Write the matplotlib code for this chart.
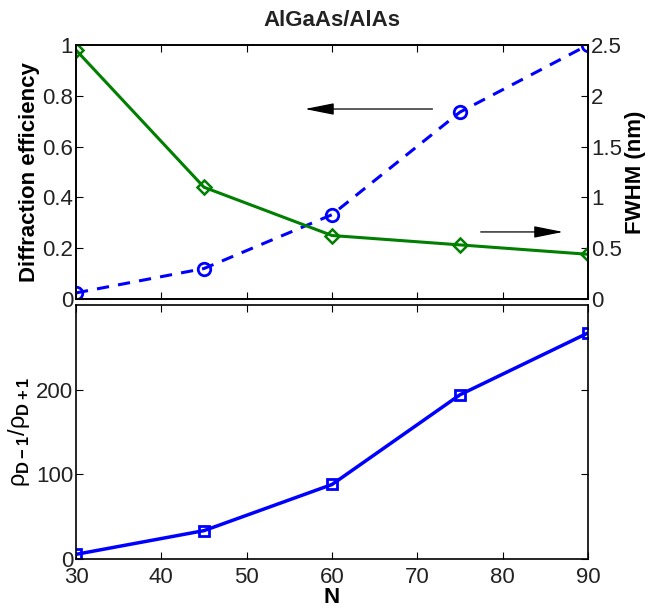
import matplotlib.pyplot as plt

plt.rcParams['font.family'] = ['Liberation Sans', 'DejaVu Sans']
plt.rcParams['mathtext.fontset'] = 'custom'
plt.rcParams['mathtext.rm'] = 'Liberation Sans'
plt.rcParams['mathtext.bf'] = 'Liberation Sans:bold'
plt.rcParams['text.color'] = '#222222'

# data
N = [30, 45, 60, 75, 90]
efficiency = [0.98, 0.44, 0.25, 0.213, 0.176]
fwhm = [0.06, 0.30, 0.83, 1.84, 2.5]
ratio = [5.5, 33.5, 88, 194, 267]

green = '#007f00'
blue = '#0000ff'
fs = 16

fig = plt.figure(figsize=(6.57, 6.12), dpi=100)
ax1 = fig.add_axes([76 / 657, 1 - 299 / 612, 512 / 657, 254 / 612])
ax2 = ax1.twinx()
ax3 = fig.add_axes([76 / 657, 1 - 559 / 612, 512 / 657, 254 / 612])

# top panel
ax2.plot(N, fwhm, '--o', color=blue, lw=2.2, ms=9, mfc='none', mew=2, dashes=(4, 3))
ax1.plot(N, efficiency, '-D', color=green, lw=2.2, ms=7.5, mfc='none', mew=1.8)
ax1.set_zorder(ax2.get_zorder() + 1)
ax1.patch.set_visible(False)

ax1.set_xlim(30, 90)
ax1.set_ylim(0, 1)
ax2.set_ylim(0, 2.5)
ax1.set_xticks([30, 40, 50, 60, 70, 80, 90])
ax1.set_xticklabels([])
ax1.set_yticks([0, 0.2, 0.4, 0.6, 0.8, 1])
ax1.set_yticklabels(['0', '0.2', '0.4', '0.6', '0.8', '1'])
ax2.set_yticks([0, 0.5, 1, 1.5, 2, 2.5])
ax2.set_yticklabels(['0', '0.5', '1', '1.5', '2', '2.5'])
ax1.set_ylabel('Diffraction efficiency', fontsize=fs, fontweight='bold', labelpad=2)
ax2.set_ylabel('FWHM (nm)', fontsize=fs, fontweight='bold', labelpad=2)
ax1.set_title('AlGaAs/AlAs', fontsize=fs, fontweight='bold', pad=14)

arrow = dict(arrowstyle='-|>,head_length=1.0,head_width=0.2',
             color='black', lw=0.9, mutation_scale=18)
ax1.annotate('', xy=(56.5, 0.748), xytext=(72.1, 0.748), arrowprops=arrow)
ax1.annotate('', xy=(87.4, 0.264), xytext=(77.1, 0.264), arrowprops=arrow)

# bottom panel
ax3.plot(N, ratio, '-s', color=blue, lw=2.5, ms=7, mfc='none', mew=2)
ax3.set_xlim(30, 90)
ax3.set_ylim(0, 300)
ax3.set_xticks([30, 40, 50, 60, 70, 80, 90])
ax3.set_yticks([0, 100, 200])
ax3.set_xlabel('N', fontsize=fs, fontweight='bold', labelpad=-1)
ax3.set_ylabel(r'$\mathrm{\rho}_{\mathbf{D-1}}/\mathrm{\rho}_{\mathbf{D+1}}$', fontsize=17)
ax3.yaxis.set_label_coords(-0.085, 0.5)

for ax in (ax1, ax2, ax3):
    ax.tick_params(direction='in', labelsize=fs, length=5, width=0.8, pad=2,
                   labelcolor='#222222')
    for s in ax.spines.values():
        s.set_linewidth(1.2)
ax3.tick_params(right=True, top=True)
ax3.tick_params(axis='x', pad=6)
ax1.tick_params(top=True)

fig.savefig('out.png', dpi=100)
